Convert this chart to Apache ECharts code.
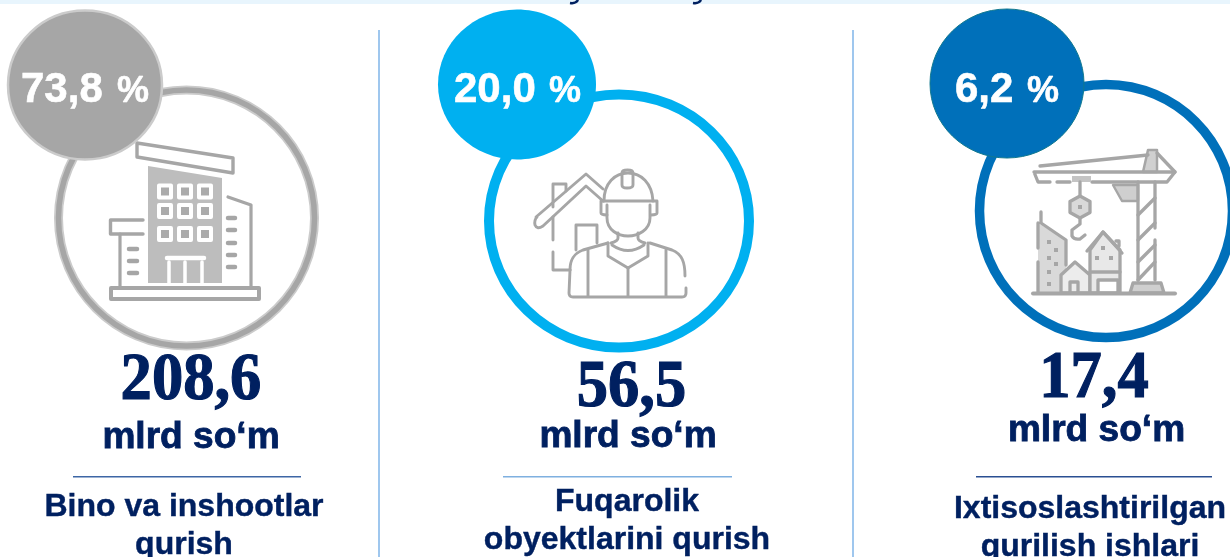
<!DOCTYPE html>
<html>
<head>
<meta charset="utf-8">
<style>
html, body { margin: 0; padding: 0; background: #fff; }
#chart { width: 1230px; height: 557px; }
</style>
<script src="https://cdn.jsdelivr.net/npm/echarts@6/dist/echarts.min.js"></script>
</head>
<body>
<div id="chart"></div>
<script>
// values
const categories = [
    ['Bino va inshootlar', 'qurish'],
    ['Fuqarolik', 'obyektlarini qurish'],
    ['Ixtisoslashtirilgan', 'qurilish ishlari'],
]
const shares = [73.8, 20.0, 6.2]
const amounts = [208.6, 56.5, 17.4]
const unit = 'mlrd so‘m'

const NAVY = '#002060'
const GRAY = '#a6a6a6'
const SANS = '"Liberation Sans", Arial, sans-serif'
const SERIF = '"Liberation Serif", "Times New Roman", serif'

// where each block sits on the slide
const panels = [
    {
        ring: { cx: 186.5, cy: 218, rx: 128, ry: 128, w: 9, color: '#cbcbcb', inner: GRAY, innerW: 5.5 },
        badge: { cx: 85, cy: 85, rx: 77, ry: 74.5, color: GRAY, stroke: '#cbcbcb', lw: 2.5 },
        shareX: 21, pctX: 117, amountX: 191, amountY: 401, unitX: 191, unitY: 448,
        rule: { x1: 73, x2: 301, color: '#3d66a5' }, titleX: 184, titleY: [515, 553],
    },
    {
        ring: { cx: 619, cy: 221, rx: 130, ry: 126.5, w: 10, color: '#00b0f0' },
        badge: { cx: 517, cy: 84.5, rx: 79, ry: 75, color: '#00b0f0' },
        shareX: 454, pctX: 549, amountX: 631.5, amountY: 408, unitX: 628, unitY: 447,
        rule: { x1: 503, x2: 732, color: '#7fb0e0' }, titleX: 627, titleY: [510, 548],
    },
    {
        ring: { cx: 1106, cy: 211, rx: 126.5, ry: 126.5, w: 9.5, color: '#0070ba' },
        badge: { cx: 1007, cy: 83.5, rx: 77, ry: 74.5, color: '#0070ba', stroke: '#11798f', lw: 1 },
        shareX: 955, pctX: 1027, amountX: 1094, amountY: 399, unitX: 1096.5, unitY: 441,
        rule: { x1: 976, x2: 1212, color: '#2a4f92' }, titleX: 1090, titleY: [517, 555],
    },
]

function ln(d, lw, stroke) {
    return { d, fill: 'none', stroke: stroke || GRAY, lw: lw || 3 }
}
function fl(d, fill, stroke, lw) {
    return { d, fill, stroke: stroke || GRAY, lw: lw === undefined ? 3 : lw }
}

function buildingIcon() {
    const parts = [
        fl('M137 143 L233 158 V173 L137 157 Z', '#fff', GRAY, 3.4),
        fl('M148 166 L222 178 V283 H148 Z', '#bdbdbd', 'none', 0),
        ln('M228 197 L251 205 V288', 3.2),
        ln('M143 220 H110.5 V234 H143', 3.4),
        ln('M120 234 V288', 3.2),
        fl('M111 288 H259 V299 H111 Z', '#fff', GRAY, 4),
        ln('M167 258 H204', 4.5, '#fff'),
        ln('M169 262 V283 M185 262 V283 M202 262 V283', 3.5, '#fff'),
    ]
    ;[218, 230, 243, 255, 267].forEach(y => parts.push(ln(`M228 ${y} H235`, 4.5)))
    ;[249, 261, 273].forEach(y => parts.push(ln(`M129 ${y} H137`, 4.5)))
    ;[159, 179, 199].forEach(x => {
        ;[185.5, 205, 228].forEach(y => {
            parts.push(fl(`M${x} ${y} h12 v12 h-12 Z`, '#ababab', '#fff', 4))
        })
    })
    return parts
}

function workerIcon() {
    const c = 2.9
    return [
        ln('M536 217 L586 174 L603 189 M603 201 L586 186 L543 226 Q537 230 535 225 Q534 220 537 217', c),
        ln('M553 207 V184 H566 V191', c),
        ln('M553 217 V240 M553 252 V270 H570', c),
        ln('M576 250 V225 H597 V243', c),
        ln('M604 201 C604 183 615 173 628 173 C641 173 652 183 653 201', c),
        ln('M601 201 H657 V213 Q657 215 651 215 M601 201 V213 Q601 215 607 215', c),
        ln('M622 173 V185 Q622 188 627 188 Q633 188 633 185 V173 Q633 170 627.5 170 Q622 170 622 173', c),
        ln('M607 205 V218 C607 230 618 236 628 236 C638 236 650 230 650 218 V205', c),
        ln('M618 233 V238 Q618 241 611 243 M638 233 V238 Q638 241 645 243', c),
        ln('M612 245 Q628 256 644 245', c),
        ln('M570 270 C570 258 575 253 583 250 L608 243 M650 243 L672 250 C682 254 685 262 685 276', c),
        ln('M608 243 V256 L628 268 L648 256 V243', c),
        ln('M628 268 V296 M588 250 V296 M666 250 V296', c),
        ln('M570 270 L569 293 Q569 297 573 297 H682 Q686 297 686 293 V288', c),
    ]
}

function craneIcon() {
    const c = 3.3
    const parts = [
        fl('M1038 223 L1066 240 V280 L1059 293 H1038 Z', '#d9d9d9', 'none', 0),
        ln('M1041 212 V223 L1066 240 V265 M1038 223 V248 M1038 262 V293', c),
        fl('M1061 293 V275 L1075 262 L1090 275 V293 Z', '#ececec', GRAY, c),
        ln('M1070 293 V282 H1078 V293', c),
        fl('M1090 293 V250 L1103 232 L1120 250 V293 Z', '#e8e8e8', GRAY, c),
        ln('M1087 251 L1103 232 L1122 253 M1116 241 H1119 V246 M1090 272 H1120', c),
        fl('M1098 293 V280 H1118 V293 Z', '#fff', GRAY, c),
        fl('M1113 185 H1138 V201 H1122 Z', '#cfcfcf', GRAY, 2.4),
        ln('M1138 182 V280 M1155 182 V228 M1155 240 V280', c),
        ln('M1138 215 L1155 198 M1138 240 L1155 223 M1138 262 L1155 245 M1138 280 L1155 262', c),
        fl('M1148 150 H1157 V172 H1143 Z', '#d0d0d0', GRAY, 2.5),
        ln('M1040 166 L1148 155 M1157 153 L1175 172', c),
        ln('M1034 172 H1175 L1167 182 H1092 M1034 172 L1038 182 H1050 M1057 182 H1070', c),
        fl('M1072 176 H1091 V182 H1072 Z', '#c4c4c4', 'none', 0),
        ln('M1080 182 V196', c),
        fl('M1080 196 L1090 201.5 V212.5 L1080 218 L1070 212.5 V201.5 Z', '#d9d9d9', GRAY, c),
        fl('M1078 205 h4 v4 h-4 Z', GRAY, 'none', 0),
        ln('M1080 218 V224 L1072 230 V236 Q1074 240 1080 239 L1085 235', c),
        fl('M1130 293 L1133 283 H1161 L1164 293 Z', '#cfcfcf', GRAY, c),
        ln('M1033 293.5 H1175', 4),
    ]
    ;[[1047, 240], [1054, 248], [1047, 256], [1054, 262], [1047, 270], [1047, 282]].forEach(p => {
        parts.push(fl(`M${p[0]} ${p[1]} h4 v4 h-4 Z`, GRAY, 'none', 0))
    })
    ;[[1095, 256], [1109, 256], [1101, 246]].forEach(p => {
        parts.push(fl(`M${p[0]} ${p[1]} h4 v4 h-4 Z`, GRAY, 'none', 0))
    })
    return parts
}

const icons = [buildingIcon(), workerIcon(), craneIcon()]

function comma(v) {
    return v.toFixed(1).replace('.', ',')
}

// text placed by its baseline; zrender centres on the em box so shift by that
function label(text, x, baseline, size, family, opt) {
    const o = opt || {}
    const mid = family === SERIF ? 0.3375 : 0.3465
    const fill = o.fill || NAVY
    return {
        type: 'text',
        x,
        y: baseline + 3 - mid * size,
        scaleX: o.scaleX || 1,
        style: {
            text,
            x: 0,
            y: 0,
            fill,
            stroke: fill,
            lineWidth: o.bold || 0.6,
            font: `bold ${size}px ${family}`,
            align: o.align || 'center',
            verticalAlign: 'middle',
        },
    }
}

function ellipse(c, stroke, w) {
    return {
        type: 'ellipse',
        shape: { cx: c.cx, cy: c.cy, rx: c.rx, ry: c.ry },
        style: { fill: 'none', stroke, lineWidth: w },
    }
}

function renderPanel(params, api) {
    const i = api.value(0)
    const p = panels[i]
    const children = []

    children.push(ellipse(p.ring, p.ring.color, p.ring.w))
    if (p.ring.inner) {
        children.push(ellipse(p.ring, p.ring.inner, p.ring.innerW))
    }
    icons[i].forEach(part => {
        children.push({
            type: 'path',
            shape: { pathData: part.d },
            style: {
                fill: part.fill,
                stroke: part.stroke,
                lineWidth: part.lw,
                lineCap: 'round',
                lineJoin: 'round',
            },
        })
    })

    const b = p.badge
    children.push({
        type: 'ellipse',
        shape: { cx: b.cx, cy: b.cy, rx: b.rx, ry: b.ry },
        style: { fill: b.color, stroke: b.stroke || 'none', lineWidth: b.lw || 0 },
    })
    children.push(label(comma(api.value(1)), p.shareX, 102, 42, SANS, { fill: '#fff', align: 'left' }))
    children.push(label('%', p.pctX, 102, 36, SANS, { fill: '#fff', align: 'left' }))

    children.push(label(comma(api.value(2)), p.amountX, p.amountY, 68, SERIF, { scaleX: 0.92, bold: 1.2 }))
    children.push(label(unit, p.unitX, p.unitY, 36, SANS, { scaleX: 1.03, bold: 0.8 }))

    children.push({
        type: 'line',
        shape: { x1: p.rule.x1, y1: 476.7, x2: p.rule.x2, y2: 476.7 },
        style: { stroke: p.rule.color, lineWidth: 1.4 },
    })
    categories[i].forEach((t, k) => {
        children.push(label(t, p.titleX, p.titleY[k], 32, SANS, { bold: 0.4 }))
    })
    return { type: 'group', children }
}

const chart = echarts.init(document.getElementById('chart'))
chart.setOption({
    animation: false,
    backgroundColor: '#fff',
    graphic: [
        { type: 'rect', shape: { x: 0, y: 0, width: 1230, height: 4 }, style: { fill: '#e8f5fd' }, silent: true },
        // tails of the cut off heading above
        { type: 'bezierCurve', shape: { x1: 578, y1: 0, x2: 570, y2: 3, cpx1: 576, cpy1: 3.5, cpx2: 573, cpy2: 3.5 }, style: { fill: 'none', stroke: NAVY, lineWidth: 2.5 } },
        { type: 'bezierCurve', shape: { x1: 701, y1: 0, x2: 693, y2: 3, cpx1: 699, cpy1: 3.5, cpx2: 696, cpy2: 3.5 }, style: { fill: 'none', stroke: NAVY, lineWidth: 2.5 } },
        { type: 'line', shape: { x1: 379, y1: 30, x2: 379, y2: 557 }, style: { stroke: '#7fb4e8', lineWidth: 1.5 } },
        { type: 'line', shape: { x1: 853, y1: 30, x2: 853, y2: 557 }, style: { stroke: '#7fb4e8', lineWidth: 1.5 } },
    ],
    series: [
        {
            type: 'custom',
            coordinateSystem: 'none',
            silent: true,
            clip: false,
            renderItem: renderPanel,
            data: categories.map((c, i) => [i, shares[i], amounts[i]]),
        },
    ],
})
window.addEventListener('resize', () => {
    chart.resize()
})
</script>
</body>
</html>
